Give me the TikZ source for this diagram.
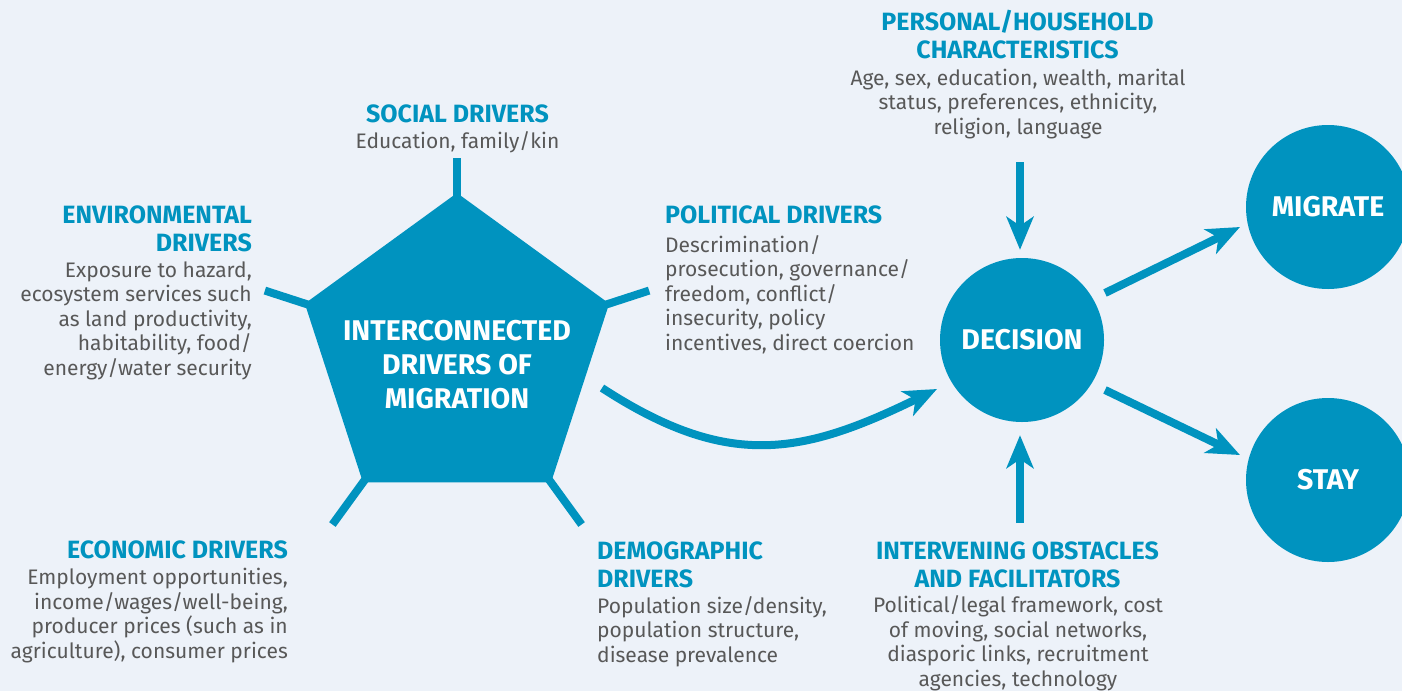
\documentclass[tikz,border=0pt]{standalone}
\usepackage{fontspec}
\setmainfont{Fira Sans}
\usetikzlibrary{shapes.geometric,arrows.meta,calc}
\definecolor{teal1}{HTML}{0093BF}
\definecolor{gray1}{HTML}{585858}
\definecolor{bgc}{HTML}{EDF2F9}
\begin{document}
\begin{tikzpicture}[x=1pt,y=-1pt,
  hd/.style={font=\bfseries\fontsize{25}{28}\selectfont, text=teal1, inner sep=0pt},
  bd/.style={font=\fontsize{21}{24.5}\selectfont, text=gray1, inner sep=0pt},
  spoke/.style={draw=teal1, line width=8pt},
  arr/.style={draw=teal1, line width=8pt, -{Stealth[length=33pt,width=27pt,inset=9pt]}},
  bigc/.style={circle, fill=teal1, minimum size=164pt, inner sep=0pt, text=white,
    font=\bfseries\fontsize{28.5}{34}\selectfont}
]
\fill[bgc] (0,0) rectangle (1402,691);
\useasboundingbox (0,0) rectangle (1402,691);

% pentagon
\node[regular polygon, regular polygon sides=5, minimum size=320pt, fill=teal1,
  inner sep=0pt, outer sep=0pt] (P) at (457,353) {};
\node[align=center, text=white, inner sep=0pt, font=\bfseries\fontsize{28.5}{34}\selectfont,
  anchor=base] (Ptxt) at (457,408) {INTERCONNECTED\\DRIVERS OF\\MIGRATION};

% spokes
\draw[spoke] ($(P.corner 1)!4pt!(P.center)$) -- ($(P.corner 1)!-35pt!(P.center)$);
\draw[spoke] ($(P.corner 2)!4pt!(P.center)$) -- ($(P.corner 2)!-42pt!(P.center)$);
\draw[spoke] ($(P.corner 5)!4pt!(P.center)$) -- ($(P.corner 5)!-42pt!(P.center)$);
\draw[spoke] ($(P.corner 3)!4pt!(P.center)$) -- ($(P.corner 3)!-52pt!(P.center)$);
\draw[spoke] ($(P.corner 4)!4pt!(P.center)$) -- ($(P.corner 4)!-52pt!(P.center)$);

% circles
\node[bigc] (D) at (1022,340) {DECISION};
\node[bigc] (M) at (1328,207) {MIGRATE};
\node[bigc] (S) at (1328,480) {STAY};

% arrows
\coordinate (ptop) at (1020,162);
\coordinate (pbot) at (1020,523);
\coordinate (cs) at (602,388);
\draw[arr] (ptop) -- ([shift={(-2,-8)}]D.north);
\draw[arr] (pbot) -- ([shift={(-2,13)}]D.south);
\draw[arr] ([shift={(83,-47)}]D.center) -- ([shift={(-88,20)}]M.center);
\draw[arr] ([shift={(83,50)}]D.center) -- ([shift={(-88,-25)}]S.center);
\draw[arr] (cs) .. controls (728,470) and (802,455) .. ([shift={(-85,49)}]D.center);

% texts (multi-line nodes: base = baseline of last line)
\node[hd, anchor=base] (soch) at (457.5,122) {SOCIAL DRIVERS};
\node[bd, anchor=base] (socb) at (457.5,148) {Education, family/kin};

\node[hd, anchor=base east, align=right] (envh) at (252,251) {ENVIRONMENTAL\\DRIVERS};
\node[bd, anchor=base east, align=right] (envb) at (252,375) {Exposure to hazard,\\ecosystem services such\\as land productivity,\\habitability, food/\\energy/water security};

\node[hd, anchor=base west, align=left] (polh) at (665,223) {POLITICAL DRIVERS};
\node[bd, anchor=base west, align=left] (polb) at (665,350) {Descrimination/\\prosecution, governance/\\freedom, conflict/\\insecurity, policy\\incentives, direct coercion};

\node[hd, anchor=base east, align=right] (ecoh) at (288,558) {ECONOMIC DRIVERS};
\node[bd, anchor=base east, align=right] (ecob) at (288,658) {Employment opportunities,\\income/wages/well-being,\\producer prices (such as in\\agriculture), consumer prices};

\node[hd, anchor=base west, align=left] (demh) at (597,587) {DEMOGRAPHIC\\DRIVERS};
\node[bd, anchor=base west, align=left] (demb) at (597,662) {Population size/density,\\population structure,\\disease prevalence};

\node[hd, anchor=base, align=center] (perh) at (1017.5,58) {PERSONAL/HOUSEHOLD\\CHARACTERISTICS};
\node[bd, anchor=base, align=center] (perb) at (1018,134) {Age, sex, education, wealth, marital\\status, preferences, ethnicity,\\religion, language};

\node[hd, anchor=base, align=center] (inth) at (1017.5,587) {INTERVENING OBSTACLES\\AND FACILITATORS};
\node[bd, anchor=base, align=center] (intb) at (1018,686) {Political/legal framework, cost\\of moving, social networks,\\diasporic links, recruitment\\agencies, technology};
\end{tikzpicture}
\end{document}
